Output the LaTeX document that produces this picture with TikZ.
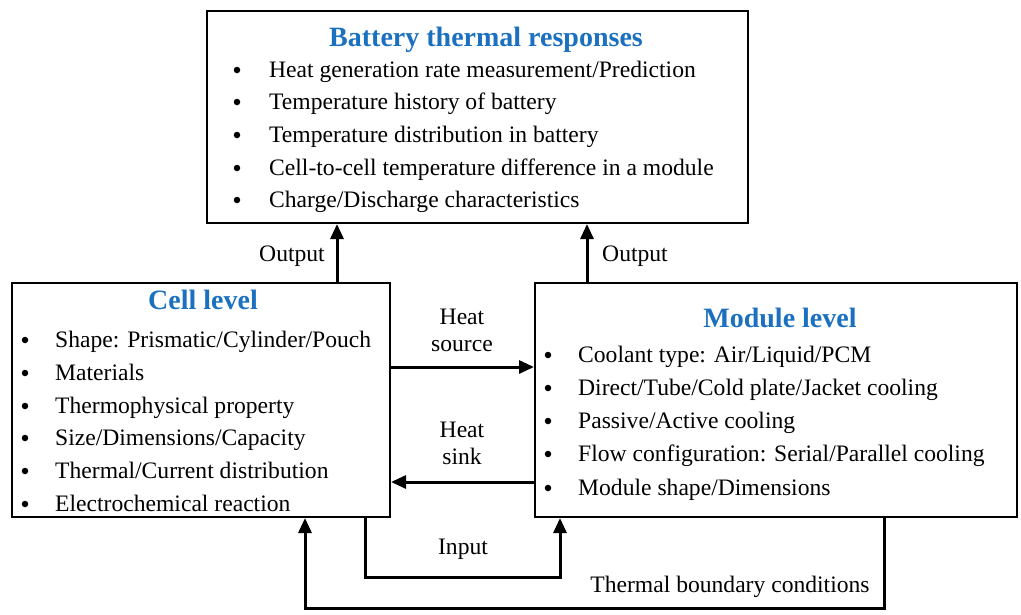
\documentclass[tikz,border=0pt]{standalone}
\usepackage{fontspec}
\setmainfont{Liberation Serif}
\usetikzlibrary{arrows.meta,calc}
\definecolor{ttl}{RGB}{28,112,192}
\begin{document}
\begin{tikzpicture}[x=1pt,y=-1pt,
  box/.style={draw=black,line width=2pt,rectangle,inner sep=0pt},
  ttlstyle/.style={font=\fontsize{28}{32}\selectfont\bfseries,text=ttl,inner sep=0pt,anchor=base},
  item/.style={font=\fontsize{23.6}{27}\selectfont,inner sep=0pt,anchor=base west},
  bul/.style={circle,fill=black,inner sep=0pt,minimum size=6.5pt},
  lbl/.style={font=\fontsize{23.6}{27}\selectfont,inner sep=0pt,anchor=base,align=center},
  arr/.style={line width=3pt,-{Triangle[length=15pt,width=13pt]}}]
\useasboundingbox (0,0) rectangle (1021,614);
\node[box,minimum width=541pt,minimum height=212pt] (top) at (477.5,117) {};
\node[box,minimum width=378pt,minimum height=234pt] (cell) at (201,400) {};
\node[box,minimum width=482pt,minimum height=234pt] (mod) at (776,400) {};
% top box text
\node[ttlstyle] (t0) at (486,46) {Battery thermal responses};
\foreach \y/\t [count=\i] in {77/{Heat generation rate measurement/Prediction},109/{Temperature history of battery},142/{Temperature distribution in battery},175/{Cell-to-cell temperature difference in a module},207/{Charge/Discharge characteristics}}{
  \node[bul] (tb\i) at (237,\y-7) {};
  \node[item] (tt\i) at (269,\y) {\t};
}
% cell text
\node[ttlstyle] (c0) at (203,309) {Cell level};
\foreach \y/\t [count=\i] in {347/{Shape: Prismatic/Cylinder/Pouch},380/{Materials},413/{Thermophysical property},445/{Size/Dimensions/Capacity},478/{Thermal/Current distribution},511/{Electrochemical reaction}}{
  \node[bul] (cb\i) at (25,\y-7) {};
  \node[item] (ct\i) at (55,\y) {\t};
}
% module text
\node[ttlstyle] (m0) at (780,327) {Module level};
\foreach \y/\t [count=\i] in {362/{Coolant type: Air/Liquid/PCM},395/{Direct/Tube/Cold plate/Jacket cooling},428/{Passive/Active cooling},461/{Flow configuration: Serial/Parallel cooling},495/{Module shape/Dimensions}}{
  \node[bul] (mb\i) at (548,\y-7) {};
  \node[item] (mt\i) at (578,\y) {\t};
}
% helper coordinates
\coordinate (x1) at (337,0);
\coordinate (x2) at (587,0);
\coordinate (y1) at (0,367);
\coordinate (y2) at (0,482);
\coordinate (x3) at (365,0);
\coordinate (x4) at (560,0);
\coordinate (x5) at (884,0);
\coordinate (x6) at (305,0);
\coordinate (b1) at (365,577);
\coordinate (b2) at (560,577);
\coordinate (b3) at (884,608);
\coordinate (b4) at (305,608);
% arrows
\draw[arr] (cell.north -| x1) -- (top.south -| x1);
\draw[arr] (mod.north -| x2) -- (top.south -| x2);
\draw[arr] (cell.east |- y1) -- (mod.west |- y1);
\draw[arr] (mod.west |- y2) -- (cell.east |- y2);
\draw[arr] (cell.south -| x3) -- (b1) -- (b2) -- (mod.south -| x4);
\draw[arr] (mod.south -| x5) -- (b3) -- (b4) -- (cell.south -| x6);
% labels
\node[lbl] (o1) at (292,261) {Output};
\node[lbl] (o2) at (635,261) {Output};
\node[lbl] (hs) at (462,324) {Heat};
\node[lbl] (hs2) at (462,351) {source};
\node[lbl] (hk) at (462,437) {Heat};
\node[lbl] (hk2) at (462,464) {sink};
\node[lbl] (in) at (463,554) {Input};
\node[lbl] (tb) at (730,592) {Thermal boundary conditions};
\end{tikzpicture}
\end{document}
